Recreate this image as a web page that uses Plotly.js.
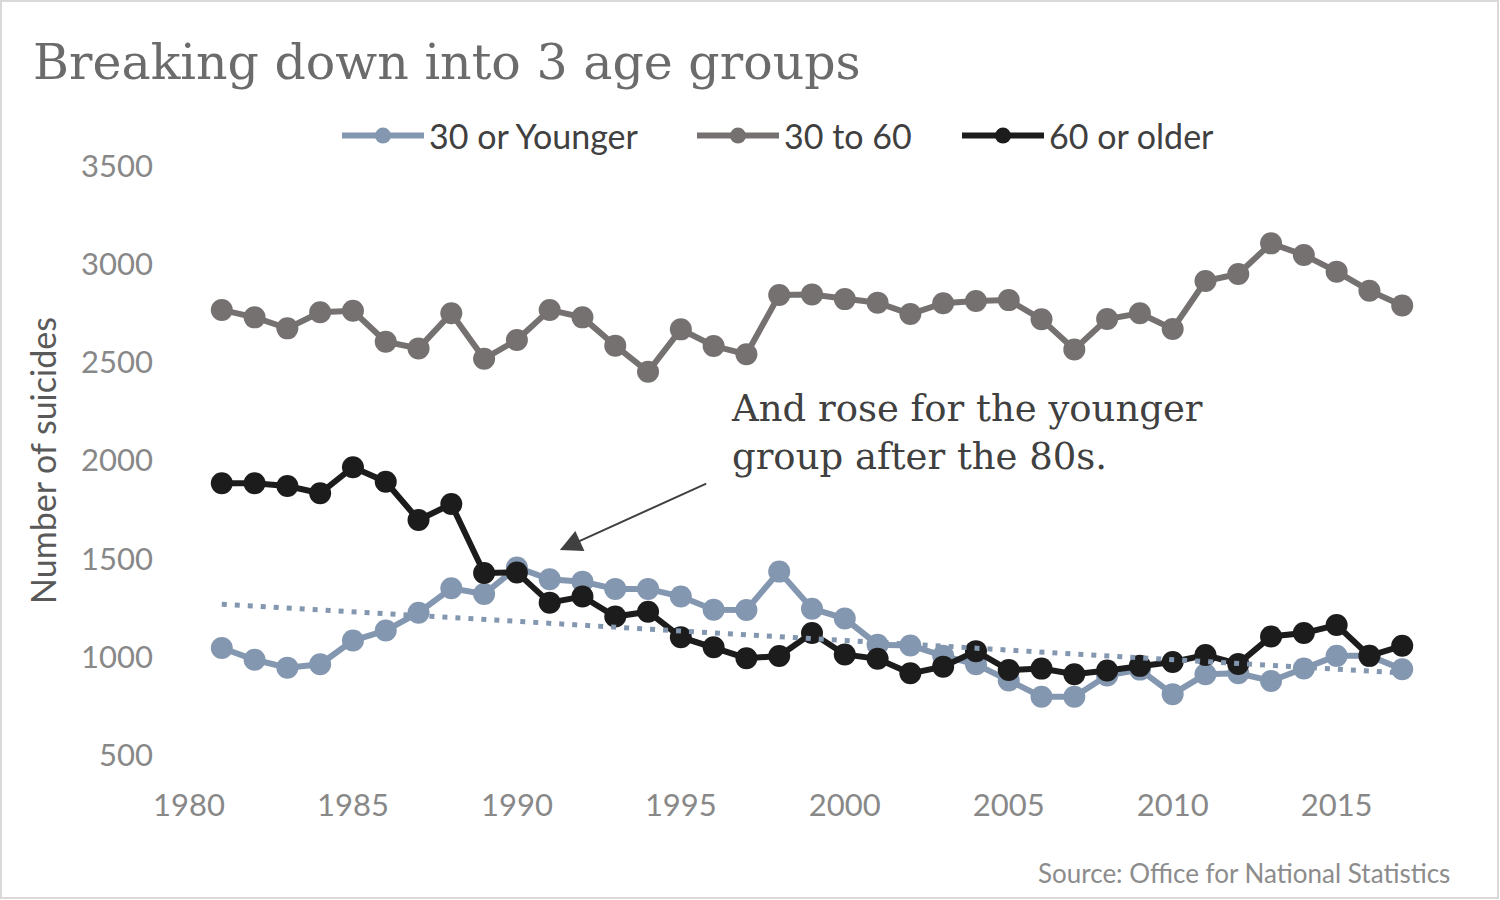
<!DOCTYPE html>
<html>
<head>
<meta charset="utf-8">
<script src="https://cdn.plot.ly/plotly-3.0.1.min.js"></script>
<style>
  html, body { margin: 0; padding: 0; background: #fff; }
  #chart { width: 1500px; height: 900px; }
</style>
</head>
<body>
<div id="chart"></div>
<script>
// values, 1981-2017
const years = [];
for (let y = 1981; y <= 2017; y++) years.push(y);

const younger = [1045, 985, 945, 962, 1083, 1134, 1225, 1349, 1320, 1455,
  1395, 1383, 1346, 1346, 1307, 1240, 1239, 1434, 1245, 1195,
  1062, 1058, 1005, 962, 880, 797, 797, 905, 935, 810,
  911, 916, 877, 941, 1005, 1005, 937];

const middle = [2767, 2729, 2673, 2755, 2763, 2605, 2571, 2750, 2518, 2614,
  2767, 2729, 2585, 2452, 2668, 2583, 2541, 2843, 2846, 2822,
  2804, 2746, 2801, 2812, 2817, 2719, 2566, 2721, 2750, 2670,
  2914, 2950, 3106, 3047, 2962, 2865, 2789];

const older = [1884, 1884, 1870, 1833, 1966, 1892, 1697, 1778, 1427, 1430,
  1276, 1307, 1205, 1230, 1100, 1049, 993, 1004, 1121, 1012,
  990, 916, 950, 1029, 933, 940, 911, 930, 954, 974,
  1009, 964, 1104, 1121, 1162, 1005, 1056];

const names = ['30 or Younger', '30 to 60', '60 or older'];
const colors = ['#8497b0', '#767171', '#1c1c1c'];
const yTicks = [500, 1000, 1500, 2000, 2500, 3000, 3500];
const xTicks = [1980, 1985, 1990, 1995, 2000, 2005, 2010, 2015];

// linear trendline (least squares) for the youngest group, like Excel's
function linearFit(xs, ys) {
  const n = xs.length;
  const mx = xs.reduce((a, b) => a + b, 0) / n;
  const my = ys.reduce((a, b) => a + b, 0) / n;
  let sxy = 0, sxx = 0;
  for (let i = 0; i < n; i++) {
    sxy += (xs[i] - mx) * (ys[i] - my);
    sxx += (xs[i] - mx) * (xs[i] - mx);
  }
  const b = sxy / sxx;
  return xs.map(x => my + b * (x - mx));
}
const trendX = [years[0], years[years.length - 1]];
const fitted = linearFit(years, younger);
const trendY = [fitted[0], fitted[fitted.length - 1]];

const legendIds = ['legend', 'legend2', 'legend3'];

function series(ys, i) {
  return {
    x: years, y: ys, name: names[i], type: 'scatter', mode: 'lines+markers',
    legend: legendIds[i],
    line: { color: colors[i], width: 6 },
    marker: { color: colors[i], size: 22 },
    hoverinfo: 'x+y+name'
  };
}

const data = [
  series(younger, 0),
  series(middle, 1),
  series(older, 2),
  {
    x: trendX, y: trendY, type: 'scatter', mode: 'lines', showlegend: false,
    line: { color: colors[0], width: 5, dash: '5px,8px' }, hoverinfo: 'skip'
  }
];

const sans = 'Lato, "Open Sans", sans-serif';
const serif = '"DejaVu Serif", serif';

// plot area: 1980 -> px 189, 2018 -> px 1435; 3500 -> px 166, 500 -> px 755
const pxToPaperX = px => (px - 189) / 1246;
const pxToPaperY = py => (755 - py) / 589;

function legendAt(leftPx) {
  return {
    orientation: 'h', x: pxToPaperX(leftPx), xanchor: 'left',
    y: pxToPaperY(136), yanchor: 'middle',
    font: { family: sans, size: 34, color: '#404040' },
    itemwidth: 82, bgcolor: 'rgba(0,0,0,0)'
  };
}

const layout = {
  width: 1500, height: 900,
  margin: { l: 189, r: 65, t: 166, b: 145 },
  paper_bgcolor: '#fff', plot_bgcolor: '#fff',
  font: { family: sans, color: '#888888' },
  title: {
    text: 'Breaking down into 3 age groups',
    font: { family: serif, size: 49, color: '#6b6b6b' },
    xref: 'container', x: 33 / 1500, xanchor: 'left',
    yref: 'container', y: 1 - 62 / 900, yanchor: 'middle'
  },
  showlegend: true,
  legend: legendAt(337),
  legend2: legendAt(692),
  legend3: legendAt(957),
  xaxis: {
    range: [1980, 2018], tickvals: xTicks, ticktext: xTicks.map(String),
    showgrid: false, zeroline: false, showline: false,
    ticklabelstandoff: 29,
    tickfont: { family: sans, size: 31, color: '#888888' }
  },
  yaxis: {
    range: [500, 3500], tickvals: yTicks, ticktext: yTicks.map(String),
    showgrid: false, zeroline: false, showline: false,
    ticklabelstandoff: 35,
    tickfont: { family: sans, size: 31, color: '#888888' },
    title: { text: 'Number of suicides', font: { family: sans, size: 34, color: '#595959' }, standoff: 14 }
  },
  annotations: [
    {
      text: 'And rose for the younger<br>group after the 80s.',
      xref: 'paper', yref: 'paper', x: pxToPaperX(729), y: pxToPaperY(432),
      xanchor: 'left', yanchor: 'middle', align: 'left', showarrow: false,
      font: { family: serif, size: 37, color: '#404040' }
    },
    {
      text: '', xref: 'x', yref: 'y', x: 1991.31, y: 1544,
      axref: 'x', ayref: 'y', ax: 1995.82, ay: 1886,
      showarrow: true, arrowhead: 2, arrowsize: 2.2, arrowwidth: 2, arrowcolor: '#404040'
    },
    {
      text: 'Source: Office for National Statistics',
      xref: 'paper', yref: 'paper', x: pxToPaperX(1452), y: pxToPaperY(873),
      xanchor: 'right', yanchor: 'middle', showarrow: false,
      font: { family: sans, size: 26, color: '#8c8c8c' }
    }
  ],
  shapes: [
    {
      type: 'rect', xref: 'paper', yref: 'paper', layer: 'below',
      x0: pxToPaperX(1), x1: pxToPaperX(1498),
      y0: pxToPaperY(898), y1: pxToPaperY(1),
      line: { color: '#d9d9d9', width: 2 }, fillcolor: 'rgba(0,0,0,0)'
    }
  ]
};

Plotly.newPlot('chart', data, layout, { displayModeBar: false, staticPlot: true });
</script>
</body>
</html>
